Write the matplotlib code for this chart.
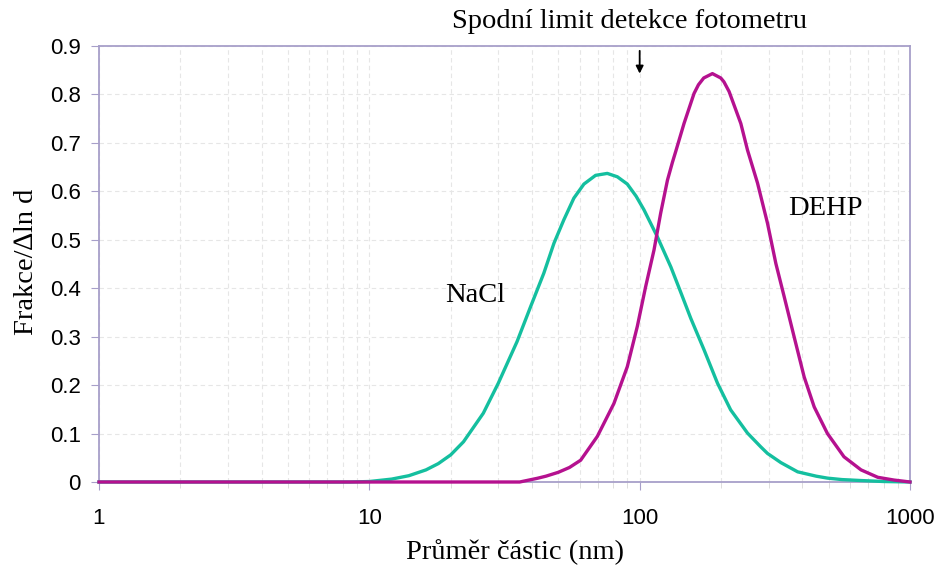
#!/usr/bin/env python3
"""Distribuce velikosti částic NaCl a DEHP (log osa x)."""

import matplotlib
matplotlib.use('Agg')
import matplotlib.pyplot as plt
from matplotlib.ticker import LogLocator, FixedLocator, NullFormatter

# NaCl
nacl_d = [1, 8.5, 10, 12.1, 14, 16.2, 18, 20, 22.3, 26.4, 30, 35.2, 39.5, 44.2,
          48.2, 52.4, 57.1, 62.2, 68.7, 75.9, 82.7, 90, 97, 103.7, 116.3, 130.4,
          141.8, 154.5, 173, 194, 217, 250.5, 280, 297, 333, 384, 450, 495, 560,
          660, 800, 1000]
nacl_y = [0, 0, 0.001, 0.006, 0.013, 0.025, 0.038, 0.056, 0.083, 0.142, 0.204,
          0.290, 0.362, 0.431, 0.493, 0.541, 0.586, 0.615, 0.633, 0.637, 0.630,
          0.615, 0.590, 0.562, 0.506, 0.444, 0.392, 0.338, 0.273, 0.204, 0.149,
          0.101, 0.073, 0.059, 0.040, 0.021, 0.012, 0.008, 0.005, 0.003, 0.001, 0]

# DEHP
dehp_d = [1, 36, 41.8, 45, 50, 55, 60.5, 69.7, 80.3, 90, 98, 105.2, 113, 119.6,
          126.7, 132.2, 135.9, 145.9, 158.9, 165, 172.6, 185.8, 199.5, 205, 214.2,
          236.7, 250.6, 272.9, 297.1, 319, 342.3, 372.6, 405.9, 442.2, 495, 570,
          659, 760, 873, 1000]
dehp_y = [0, 0, 0.0076, 0.012, 0.02, 0.03, 0.045, 0.094, 0.162, 0.238, 0.321,
          0.403, 0.479, 0.555, 0.623, 0.660, 0.682, 0.740, 0.802, 0.820, 0.834,
          0.843, 0.834, 0.826, 0.806, 0.740, 0.685, 0.617, 0.534, 0.451, 0.383,
          0.300, 0.217, 0.155, 0.100, 0.052, 0.025, 0.0097, 0.004, 0]

x_ticks = [1, 10, 100, 1000]
x_ticklabels = ['1', '10', '100', '1000']
y_ticks = [0, 0.1, 0.2, 0.3, 0.4, 0.5, 0.6, 0.7, 0.8, 0.9]
y_ticklabels = ['0', '0.1', '0.2', '0.3', '0.4', '0.5', '0.6', '0.7', '0.8', '0.9']

SERIF = ['Liberation Serif', 'DejaVu Serif']
SANS = ['Liberation Sans', 'DejaVu Sans']
FRAME = '#a79fc9'
GRID = '#e6e6e6'
W, H = 941, 568


def main() -> int:
    fig = plt.figure(figsize=(W / 100, H / 100), dpi=100)
    ax = fig.add_axes([99 / W, 86 / H, 811 / W, 436 / H])

    ax.plot(nacl_d, nacl_y, color='#14bf9f', linewidth=2.4, clip_on=False,
            solid_joinstyle='round', zorder=3)
    ax.plot(dehp_d, dehp_y, color='#b5118f', linewidth=2.4, clip_on=False,
            solid_joinstyle='round', zorder=4)

    ax.set_xscale('log')
    ax.set_xlim(1, 1000)
    ax.set_ylim(0, 0.9)

    ax.xaxis.set_major_locator(FixedLocator(x_ticks))
    ax.set_xticklabels(x_ticklabels)
    ax.xaxis.set_minor_locator(LogLocator(base=10, subs=range(2, 10)))
    ax.xaxis.set_minor_formatter(NullFormatter())
    ax.set_yticks(y_ticks)
    ax.set_yticklabels(y_ticklabels)

    for lab in ax.get_xticklabels() + ax.get_yticklabels():
        lab.set_family(SANS)
        lab.set_fontsize(16)

    ax.tick_params(axis='x', which='major', length=6, width=0.8, color=FRAME, pad=13)
    ax.tick_params(axis='x', which='minor', length=4, width=0.6, color='#d8d8d8')
    ax.tick_params(axis='y', length=6, width=0.8, color=FRAME, pad=7)

    ax.grid(True, which='both', axis='x', color=GRID, linestyle=(0, (4, 3)), linewidth=0.8)
    ax.grid(True, which='major', axis='y', color=GRID, linestyle=(0, (4, 3)), linewidth=0.8)
    ax.set_axisbelow(True)

    for sp in ax.spines.values():
        sp.set_color(FRAME)
        sp.set_linewidth(1.3)

    # popisky os - umístěné v pixelech obrázku
    fig.text(515 / W, 1 - 552 / H, 'Průměr částic (nm)', family=SERIF, fontsize=20.5,
             ha='center', va='center')
    fig.text(27 / W, 1 - 262 / H, 'Frakce/∆ln d', family=SERIF, fontsize=20.5,
             ha='center', va='center', rotation=90)
    fig.text(630 / W, 1 - 22 / H, 'Spodní limit detekce fotometru', family=SERIF,
             fontsize=20.5, ha='center', va='center')

    ax.text(24.7, 0.384, 'NaCl', family=SERIF, fontsize=20.5, ha='center', va='center')
    ax.text(488, 0.565, 'DEHP', family=SERIF, fontsize=20.5, ha='center', va='center')

    ax.annotate('', xy=(100, 0.843), xytext=(100, 0.89),
                arrowprops=dict(arrowstyle='-|>', mutation_scale=11, lw=1.3, color='black',
                                shrinkA=0, shrinkB=0))

    fig.savefig('out.png', dpi=100)
    plt.close(fig)
    return 0


if __name__ == '__main__':
    raise SystemExit(main())
